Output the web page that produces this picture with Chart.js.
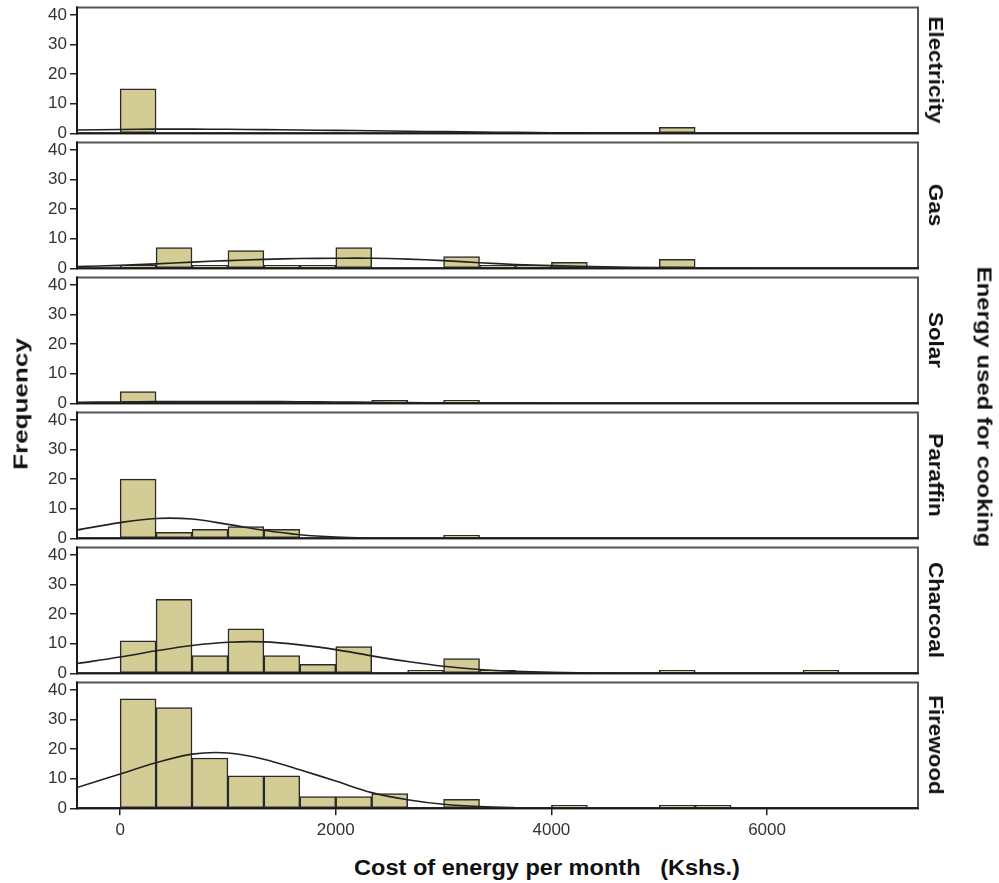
<!DOCTYPE html>
<html><head><meta charset="utf-8">
<script src="https://cdn.jsdelivr.net/npm/chart.js@4.4.1/dist/chart.umd.min.js"></script>
<style>
html,body{margin:0;padding:0;background:#fff;}
#wrap{position:relative;width:999px;height:883px;overflow:hidden;font-family:"Liberation Sans",Arial,sans-serif;}
#wrap canvas{position:absolute;left:0;}
.lbl{position:absolute;font-weight:bold;color:#111;white-space:pre;line-height:1;transform-origin:50% 50%;}
</style></head><body>
<div id="wrap"></div>
<script>
// ---------- data ----------
const panelNames = ["Electricity", "Gas", "Solar", "Paraffin", "Charcoal", "Firewood"];
// bin centres (Kshs.), bins 1000/3 wide starting at 0
const binCenters = [166.7, 500, 833.3, 1166.7, 1500, 1833.3, 2166.7, 2500, 2833.3, 3166.7, 3500,
                    3833.3, 4166.7, 4500, 4833.3, 5166.7, 5500, 5833.3, 6166.7, 6500, 6833.3];
const electricityCounts = [15, 0, 0, 0, 0, 0, 0, 0, 0, 0, 0, 0, 0, 0, 0, 2, 0, 0, 0, 0, 0];
const gasCounts         = [1, 7, 1, 6, 1, 1, 7, 0, 0, 4, 1, 1, 2, 0, 0, 3, 0, 0, 0, 0, 0];
const solarCounts       = [4, 0, 0, 0, 0, 0, 0, 1, 0, 1, 0, 0, 0, 0, 0, 0, 0, 0, 0, 0, 0];
const paraffinCounts    = [20, 2, 3, 4, 3, 0, 0, 0, 0, 1, 0, 0, 0, 0, 0, 0, 0, 0, 0, 0, 0];
const charcoalCounts    = [11, 25, 6, 15, 6, 3, 9, 0, 1, 5, 1, 0, 0, 0, 0, 1, 0, 0, 0, 1, 0];
const firewoodCounts    = [37, 34, 17, 11, 11, 4, 4, 5, 0, 3, 0, 0, 1, 0, 0, 1, 1, 0, 0, 0, 0];
// normal curve heights at these x positions
const curveX = [-400, 0, 333, 667, 1000, 1333, 1667, 2000, 2333, 2667, 3000, 3333, 3667, 4000, 4500, 5000, 5500, 6000, 6500, 7000, 7400];
const electricityCurve = [1.1, 1.3, 1.4, 1.4, 1.35, 1.25, 1.1, 1.0, 0.85, 0.7, 0.55, 0.4, 0.3, 0.2, 0.1, 0.05, 0.02, 0.01, 0, 0, 0];
const gasCurve         = [0.6, 1.0, 1.5, 2.1, 2.6, 3.0, 3.3, 3.4, 3.4, 3.1, 2.6, 1.9, 1.3, 0.9, 0.5, 0.25, 0.1, 0.04, 0, 0, 0];
const solarCurve       = [0.35, 0.45, 0.55, 0.6, 0.6, 0.58, 0.52, 0.44, 0.34, 0.25, 0.17, 0.11, 0.07, 0.04, 0.02, 0.01, 0, 0, 0, 0, 0];
const paraffinCurve    = [2.8, 5.3, 6.7, 6.5, 4.7, 2.7, 1.2, 0.4, 0.1, 0.02, 0, 0, 0, 0, 0, 0, 0, 0, 0, 0, 0];
const charcoalCurve    = [3.3, 5.5, 7.6, 9.4, 10.5, 10.6, 9.6, 8.0, 5.9, 4.0, 2.4, 1.3, 0.65, 0.3, 0.07, 0.02, 0, 0, 0, 0, 0];
const firewoodCurve    = [7.0, 11.6, 15.4, 18.3, 18.7, 16.6, 13.0, 9.2, 5.3, 2.9, 1.35, 0.55, 0.2, 0.06, 0.01, 0, 0, 0, 0, 0, 0];
const yTicks = [0, 10, 20, 30, 40];
const xTicks = [0, 2000, 4000, 6000];
const xTitle = "Cost of energy per month   (Kshs.)";
const yTitle = "Frequency";
const rightTitle = "Energy used for cooking";

const panelCounts = [electricityCounts, gasCounts, solarCounts, paraffinCounts, charcoalCounts, firewoodCounts];
const panelCurves = [electricityCurve, gasCurve, solarCurve, paraffinCurve, charcoalCurve, firewoodCurve];

// ---------- layout ----------
const PITCH = 135;
const wrap = document.getElementById('wrap');
Chart.defaults.color = '#222';
Chart.defaults.font.family = '"Liberation Sans", Arial, sans-serif';

const framePlugin = {
  id: 'frame',
  afterDraw(chart) {
    const a = chart.chartArea, ctx = chart.ctx;
    ctx.save();
    ctx.strokeStyle = '#555';
    ctx.lineWidth = 2;
    ctx.strokeRect(a.left, a.top, a.right - a.left, a.bottom - a.top);
    ctx.strokeStyle = '#1a1a1a';
    ctx.beginPath(); ctx.moveTo(a.left, a.top - 1); ctx.lineTo(a.left, a.bottom + 1);
    ctx.moveTo(a.left - 1, a.bottom); ctx.lineTo(a.right + 1, a.bottom); ctx.stroke();
    ctx.restore();
  }
};

function makePanel(i) {
  const isLast = i === panelNames.length - 1;
  const h = isLast ? 175 : 150;
  const c = document.createElement('canvas');
  c.width = 999; c.height = h;
  c.style.width = '999px'; c.style.height = h + 'px';
  c.style.top = (i * PITCH) + 'px';
  wrap.appendChild(c);
  const counts = panelCounts[i], curve = panelCurves[i];
  new Chart(c, {
    type: 'bar',
    data: {
      datasets: [
        { type: 'line', data: curveX.map((x, k) => ({ x: x, y: curve[k] })),
          borderColor: '#222', borderWidth: 1.6, pointRadius: 0, fill: false,
          tension: 0.35, order: 0 },
        { type: 'bar', data: binCenters.map((x, k) => ({ x: x, y: counts[k] ? counts[k] : null })),
          backgroundColor: '#d4cc95', borderColor: '#2a2a2a', borderWidth: 1.5,
          borderSkipped: false, barPercentage: 1, categoryPercentage: 1, order: 1 }
      ]
    },
    options: {
      responsive: false, animation: false, events: [],
      layout: { padding: { left: 30, right: 81, top: 7.5, bottom: isLast ? 6.7 : 16.7 } },
      plugins: { legend: { display: false }, tooltip: { enabled: false } },
      scales: {
        x: {
          type: 'linear', min: -400, max: 7400, offset: false, display: isLast,
          afterBuildTicks: s => { s.ticks = xTicks.map(v => ({ value: v })); },
          afterFit: s => { if (isLast) { s.height = 35; s.paddingLeft = 0; s.paddingRight = 0; } },
          grid: { offset: false, drawOnChartArea: false, drawTicks: true, tickLength: 7, color: '#222', lineWidth: 1.5 },
          border: { display: true, color: '#1a1a1a', width: 2 },
          ticks: { font: { size: 17 }, color: '#333', padding: 5, maxRotation: 0, autoSkip: false,
                   callback: v => String(v) }
        },
        y: {
          min: 0, max: 42.5,
          afterBuildTicks: s => { s.ticks = yTicks.map(v => ({ value: v })); },
          afterFit: s => { s.width = 47; s.paddingTop = 0; s.paddingBottom = 0; },
          grid: { offset: false, drawOnChartArea: false, drawTicks: true, tickLength: 7, color: '#222', lineWidth: 1.5 },
          border: { display: true, color: '#1a1a1a', width: 2 },
          ticks: { font: { size: 17 }, color: '#333', padding: 3, autoSkip: false, callback: v => String(v) }
        }
      }
    },
    plugins: [framePlugin]
  });
  // panel label on the right
  const d = document.createElement('div');
  d.className = 'lbl';
  d.textContent = panelNames[i];
  d.style.fontSize = '20px';
  d.style.left = '936px';
  d.style.top = (i * PITCH + 70.4) + 'px';
  d.style.transform = 'translate(-50%,-50%) rotate(90deg) scaleX(1.12)';
  wrap.appendChild(d);
}
for (let i = 0; i < panelNames.length; i++) makePanel(i);

function addLabel(text, size, cx, cy, tf) {
  const d = document.createElement('div');
  d.className = 'lbl';
  d.textContent = text;
  d.style.fontSize = size + 'px';
  d.style.left = cx + 'px';
  d.style.top = cy + 'px';
  d.style.transform = 'translate(-50%,-50%) ' + tf;
  wrap.appendChild(d);
}
addLabel(yTitle, 21, 20, 404, 'rotate(-90deg) scaleX(1.24)');
addLabel(rightTitle, 21, 985, 407, 'rotate(90deg) scaleX(1.14)');
addLabel(xTitle, 22, 547, 868, 'scaleX(1.07)');
</script>
</body></html>
